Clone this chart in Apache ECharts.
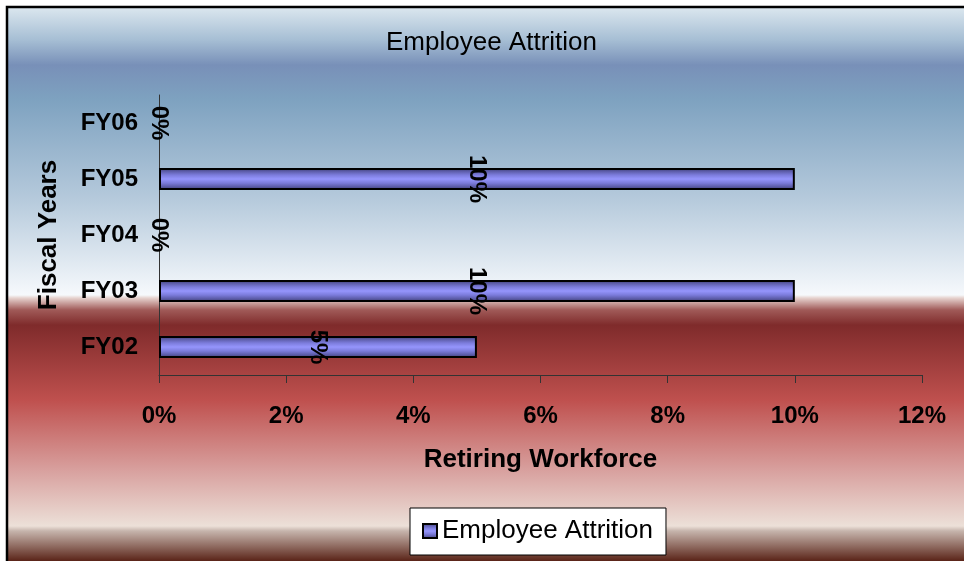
<!DOCTYPE html>
<html>
<head>
<meta charset="utf-8">
<script src="https://cdn.jsdelivr.net/npm/echarts@6/dist/echarts.min.js"></script>
<style>html,body{margin:0;padding:0;background:#fff}#c{width:964px;height:561px}</style>
</head>
<body>
<div id="c"></div>
<script>
const categories = ['FY02', 'FY03', 'FY04', 'FY05', 'FY06'];
const attritionValues = [5, 10, 0, 10, 0];
const xTicks = { min: 0, max: 12, interval: 2 };
const seriesName = 'Employee Attrition';
const titleText = 'Employee Attrition';
const xAxisName = 'Retiring Workforce';
const yAxisName = 'Fiscal Years';

const FONT = '"Liberation Sans", Arial, sans-serif';
const H = 561;
function st(y, c) { return { offset: y / H, color: c }; }

const bgGradient = new echarts.graphic.LinearGradient(0, 0, 0, H, [
  st(8, '#dae6ee'), st(40, '#a6bed4'), st(65, '#7890b8'), st(100, '#7ea2c0'),
  st(200, '#b6cadc'), st(295, '#f6f9fc'), st(298, '#e6d2ce'), st(310, '#a05a58'),
  st(325, '#7f2b2b'), st(400, '#bf504e'), st(470, '#d8a09e'), st(526, '#ece0d8'),
  st(531, '#c6b4ac'), st(561, '#5a2418')
], true);

const barGradient = new echarts.graphic.LinearGradient(0, 0, 0, 1, [
  { offset: 0, color: '#3a3a6c' }, { offset: 0.15, color: '#5c5ca8' },
  { offset: 0.32, color: '#7c7cdc' }, { offset: 0.5, color: '#9595fc' },
  { offset: 0.68, color: '#7c7cdc' }, { offset: 0.85, color: '#5c5ca8' },
  { offset: 1, color: '#3a3a6c' }
]);

const chart = echarts.init(document.getElementById('c'), null, { renderer: 'canvas' });
chart.setOption({
  backgroundColor: '#ffffff',
  animation: false,
  graphic: [{
    type: 'rect', z: -10, silent: true,
    shape: { x: 7, y: 7, width: 1000, height: 600 },
    style: { fill: bgGradient, stroke: '#000', lineWidth: 2.5 }
  }],
  title: {
    text: titleText, left: 381, top: 25,
    textStyle: { fontFamily: FONT, fontSize: 26, fontWeight: 'normal', color: '#000' }
  },
  legend: {
    data: [seriesName], left: 410, top: 508, icon: 'rect',
    padding: [10, 13, 11, 12], backgroundColor: '#fff', borderColor: '#000', borderWidth: 1,
    itemWidth: 14, itemHeight: 14, itemGap: 8,
    textStyle: { fontFamily: FONT, fontSize: 26, color: '#000' }
  },
  grid: { left: 159, right: 42, top: 95, bottom: 186, containLabel: false },
  xAxis: {
    type: 'value', min: xTicks.min, max: xTicks.max, interval: xTicks.interval,
    name: xAxisName, nameLocation: 'middle', nameGap: 72,
    nameTextStyle: { fontFamily: FONT, fontSize: 26, fontWeight: 'bold', color: '#000' },
    axisLine: { show: true, lineStyle: { color: '#333', width: 1 } },
    axisTick: { show: true, length: 8, lineStyle: { color: '#333' } },
    splitLine: { show: false },
    axisLabel: { formatter: '{value}%', margin: 29, fontFamily: FONT, fontSize: 24, fontWeight: 'bold', color: '#000' }
  },
  yAxis: {
    type: 'category', data: categories,
    name: yAxisName, nameLocation: 'middle', nameGap: 97, nameRotate: 90,
    nameTextStyle: { fontFamily: FONT, fontSize: 26, fontWeight: 'bold', color: '#000' },
    axisLine: { show: true, lineStyle: { color: '#333', width: 1 } },
    axisTick: { show: false },
    axisLabel: { margin: 21, fontFamily: FONT, fontSize: 24, fontWeight: 'bold', color: '#000' }
  },
  series: [{
    name: seriesName, type: 'bar', barWidth: 22,
    data: attritionValues.map(v => ({ value: v, itemStyle: v === 0 ? { borderWidth: 0 } : {} })),
    itemStyle: { color: barGradient, borderColor: '#000', borderWidth: 2 },
    label: {
      show: true, position: 'inside', rotate: -90, formatter: '{c}%',
      fontFamily: FONT, fontSize: 24, fontWeight: 'bold', color: '#000'
    }
  }]
});
</script>
</body>
</html>
